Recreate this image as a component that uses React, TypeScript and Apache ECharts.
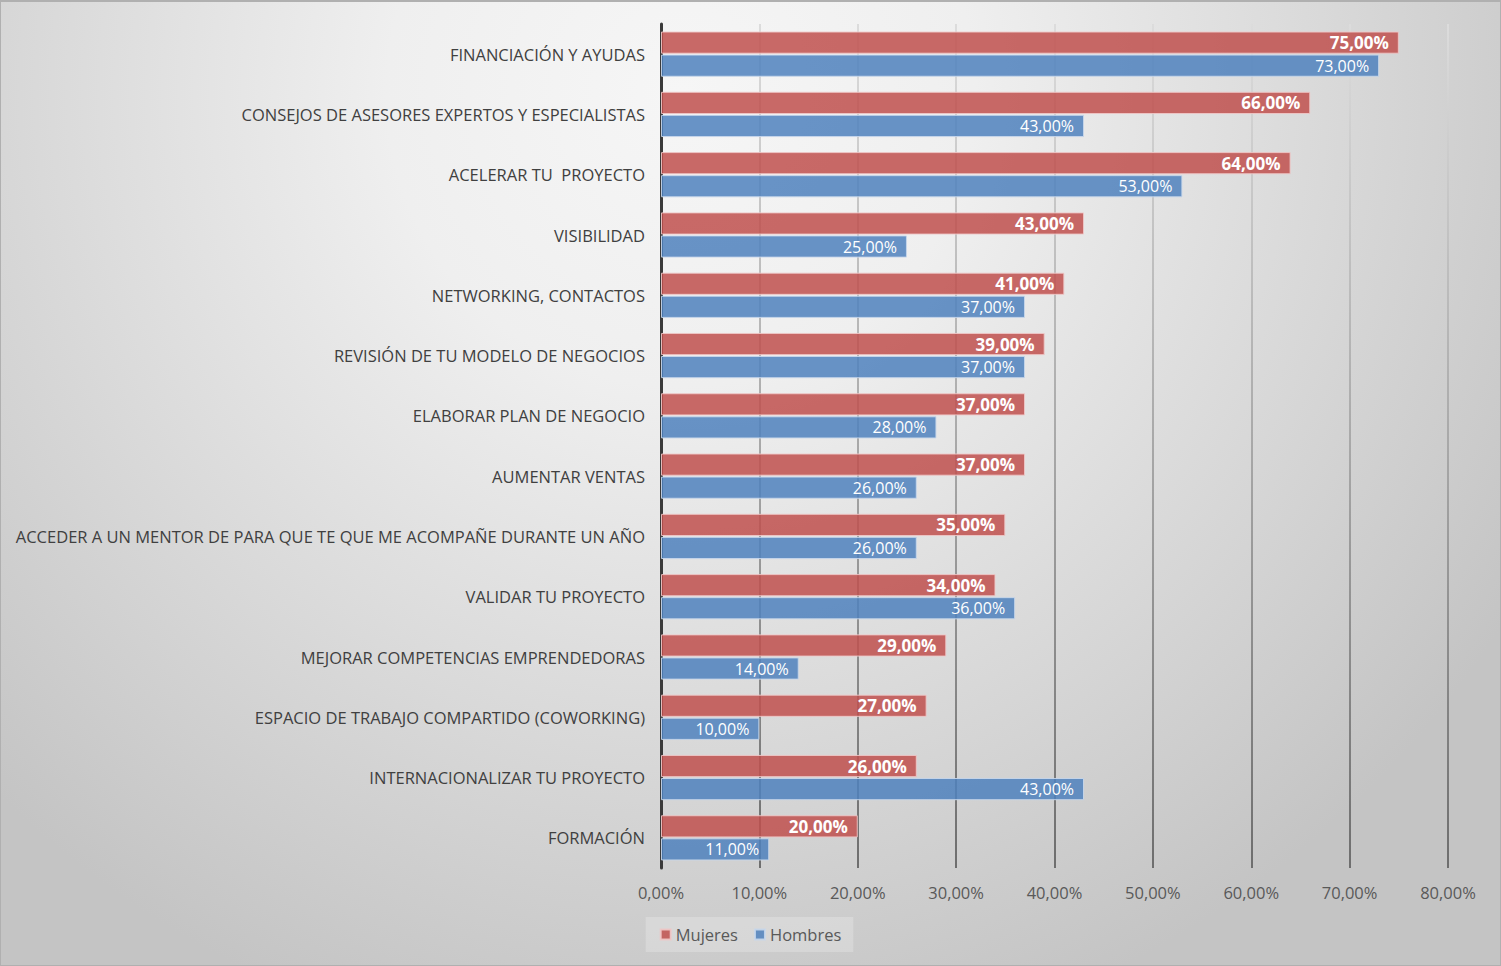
import React, { useEffect, useRef } from "react";
import * as echarts from "echarts";

const categories = [
  "FINANCIACIÓN Y AYUDAS",
  "CONSEJOS DE ASESORES EXPERTOS Y ESPECIALISTAS",
  "ACELERAR TU  PROYECTO",
  "VISIBILIDAD",
  "NETWORKING, CONTACTOS",
  "REVISIÓN DE TU MODELO DE NEGOCIOS",
  "ELABORAR PLAN DE NEGOCIO",
  "AUMENTAR VENTAS",
  "ACCEDER A UN MENTOR DE PARA QUE TE QUE ME ACOMPAÑE DURANTE UN AÑO",
  "VALIDAR TU PROYECTO",
  "MEJORAR COMPETENCIAS EMPRENDEDORAS",
  "ESPACIO DE TRABAJO COMPARTIDO (COWORKING)",
  "INTERNACIONALIZAR TU PROYECTO",
  "FORMACIÓN",
];
const mujeres = [75, 66, 64, 43, 41, 39, 37, 37, 35, 34, 29, 27, 26, 20];
const hombres = [73, 43, 53, 25, 37, 37, 28, 26, 26, 36, 14, 10, 43, 11];
const seriesNames = ["Mujeres", "Hombres"];

const FONT = "'Open Sans', 'Noto Sans', sans-serif";
const fmt = (v: number) => v.toFixed(2).replace(".", ",") + "%";

export default function App() {
  const ref = useRef<HTMLDivElement>(null);
  useEffect(() => {
    if (!ref.current) return;
    const chart = echarts.init(ref.current, undefined, { renderer: "svg" });
    chart.setOption({
      animation: false,
      backgroundColor: "transparent",
      textStyle: { fontFamily: FONT },
      grid: { left: 661, right: 53, top: 24, bottom: 98, containLabel: false },
      legend: {
        data: seriesNames,
        left: "center",
        top: 917,
        itemWidth: 10,
        itemHeight: 10,
        itemGap: 16,
        icon: "rect",
        padding: [9, 12, 9, 14],
        backgroundColor: "rgba(255,255,255,0.22)",
        textStyle: { color: "#595959", fontSize: 16.5, fontFamily: FONT },
      },
      xAxis: {
        type: "value",
        min: 0,
        max: 80,
        interval: 10,
        axisLine: { show: false },
        axisTick: { show: false },
        axisLabel: {
          color: "#595959",
          fontSize: 16.5,
          margin: 16,
          fontFamily: FONT,
          formatter: (v: number) => fmt(v),
        },
        splitLine: {
          show: true,
          lineStyle: {
            width: 2,
            color: new echarts.graphic.LinearGradient(
              0,
              24,
              0,
              868,
              [
                { offset: 0, color: "#dcdcdc" },
                { offset: 0.5, color: "#a8a8a8" },
                { offset: 1, color: "#6e6e6e" },
              ],
              true
            ),
          },
        },
      },
      yAxis: {
        type: "category",
        data: categories,
        inverse: true,
        axisLine: { show: true, lineStyle: { color: "#3a3a3a", width: 3 } },
        axisTick: { show: false },
        axisLabel: {
          color: "#404040",
          fontSize: 16.5,
          margin: 16,
          fontFamily: FONT,
        },
      },
      series: [
        {
          name: seriesNames[0],
          type: "bar",
          data: mujeres,
          barCategoryGap: "25%",
          barGap: "4%",
          itemStyle: {
            color: "rgba(192,80,77,0.85)",
            borderColor: "rgba(240,200,200,0.9)",
            borderWidth: 1,
          },
          label: {
            show: true,
            position: "insideRight",
            distance: 10,
            color: "#ffffff",
            fontWeight: "bold",
            fontSize: 17,
            fontFamily: FONT,
            formatter: (p: any) => fmt(p.value),
          },
        },
        {
          name: seriesNames[1],
          type: "bar",
          data: hombres,
          barCategoryGap: "25%",
          barGap: "4%",
          itemStyle: {
            color: "rgba(79,129,189,0.85)",
            borderColor: "rgba(200,215,235,0.9)",
            borderWidth: 1,
          },
          label: {
            show: true,
            position: "insideRight",
            distance: 10,
            color: "#ffffff",
            fontSize: 16,
            fontFamily: FONT,
            formatter: (p: any) => fmt(p.value),
          },
        },
      ],
    });
    return () => chart.dispose();
  }, []);

  return (
    <div
      style={{
        position: "absolute",
        left: 0,
        top: 0,
        width: 1501,
        height: 966,
        boxSizing: "border-box",
        border: "1px solid #b0b0b0",
        borderTopWidth: 2,
        background:
          "radial-gradient(circle 980px at 680px 90px, #f6f6f6 0%, #efefef 30%, #c4c4c4 100%)",
      }}
    >
      <div ref={ref} style={{ position: "absolute", left: -1, top: -2, width: 1501, height: 966 }} />
    </div>
  );
}
